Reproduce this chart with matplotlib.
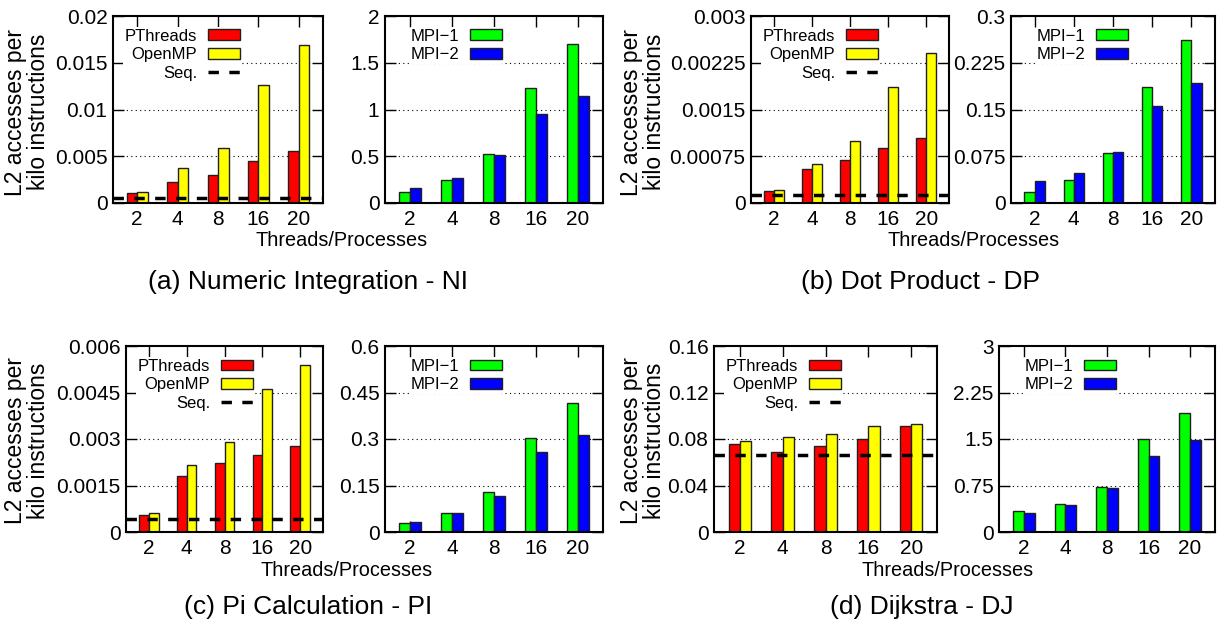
import matplotlib
matplotlib.use('Agg')
import matplotlib.pyplot as plt
import numpy as np

plt.rcParams['font.family'] = ['Liberation Sans', 'DejaVu Sans']

threads = ['2', '4', '8', '16', '20']

# (a) Numeric Integration
ni_pthreads = [0.00107, 0.00225, 0.00303, 0.00446, 0.00553]
ni_openmp = [0.00114, 0.00371, 0.00585, 0.01258, 0.01686]
ni_seq = 0.00057
ni_mpi1 = [0.114, 0.242, 0.524, 1.226, 1.70]
ni_mpi2 = [0.157, 0.264, 0.513, 0.952, 1.144]

# (b) Dot Product
dp_pthreads = [0.000193, 0.000545, 0.000684, 0.000877, 0.00104]
dp_openmp = [0.000203, 0.000626, 0.000989, 0.001856, 0.00241]
dp_seq = 0.000134
dp_mpi1 = [0.0171, 0.0364, 0.0797, 0.1856, 0.261]
dp_mpi2 = [0.0348, 0.0476, 0.0813, 0.155, 0.192]

# (c) Pi Calculation
pi_pthreads = [0.000547, 0.00182, 0.00222, 0.00249, 0.00276]
pi_openmp = [0.000623, 0.00216, 0.0029, 0.00462, 0.00538]
pi_seq = 0.00043
pi_mpi1 = [0.0279, 0.0612, 0.130, 0.303, 0.416]
pi_mpi2 = [0.0311, 0.060, 0.117, 0.258, 0.312]

# (d) Dijkstra
dj_pthreads = [0.0761, 0.0684, 0.0736, 0.0801, 0.0913]
dj_openmp = [0.0779, 0.0813, 0.0839, 0.0913, 0.0933]
dj_seq = 0.0664
dj_mpi1 = [0.338, 0.456, 0.730, 1.497, 1.916]
dj_mpi2 = [0.311, 0.44, 0.703, 1.229, 1.487]

captions = ['(a) Numeric Integration - NI', '(b) Dot Product - DP',
            '(c) Pi Calculation - PI', '(d) Dijkstra - DJ']

W, H = 1219, 631
fig = plt.figure(figsize=(W / 100, H / 100), dpi=100)


def px_axes(l, t, r, b):
    return fig.add_axes([l / W, 1 - b / H, (r - l) / W, (b - t) / H])


def style(ax, ymax):
    ax.set_xlim(-0.6, 4.6)
    ax.set_ylim(0, ymax)
    ticks = np.linspace(0, ymax, 5)
    ax.set_yticks(ticks)
    ax.set_yticklabels([f'{t:g}' for t in ticks])
    ax.set_xticks(range(len(threads)))
    ax.set_xticklabels(threads)
    ax.tick_params(direction='in', length=8, width=1, top=True, right=True,
                   labelsize=15)
    ax.tick_params(axis='y', pad=4)
    ax.tick_params(axis='x', pad=5)
    for s in ax.spines.values():
        s.set_linewidth(1.5)
    for t in ticks[1:-1]:
        ax.axhline(t, color='black', lw=0.8, ls=(0, (1, 3)), zorder=0)
    ax.set_axisbelow(True)


def legend(ax, handles, offset_px, width_px, top_px, height_px):
    ax.legend(handles=handles, loc='upper right', markerfirst=False,
              frameon=True, facecolor='white', edgecolor='none',
              framealpha=1, fontsize=12, handlelength=1.95,
              handleheight=0.6, handletextpad=0.65, labelspacing=0.22,
              borderpad=0.1, borderaxespad=0,
              bbox_to_anchor=(offset_px / width_px, 1 - top_px / height_px))


def left_panel(box, pth, omp, seq, ymax):
    l, t, r, b = box
    ax = px_axes(l, t, r, b)
    x = np.arange(len(threads))
    w = 0.26
    b1 = ax.bar(x - w / 2, pth, w, color='#ff0000', edgecolor='#202020',
                lw=1, label='PThreads')
    b2 = ax.bar(x + w / 2, omp, w, color='#ffff00', edgecolor='#202020',
                lw=1, label='OpenMP')
    ln = ax.axhline(seq, color='black', lw=2.5, ls=(0, (3, 3)), label='Seq.',
                    zorder=5)
    style(ax, ymax)
    legend(ax, [b1, b2, ln], 129, r - l, 11, b - t)
    return ax


def right_panel(box, m1, m2, ymax):
    l, t, r, b = box
    ax = px_axes(l, t, r, b)
    x = np.arange(len(threads))
    w = 0.26
    b1 = ax.bar(x - w / 2, m1, w, color='#00ff00', edgecolor='#202020',
                lw=1, label='MPI\u22121')
    b2 = ax.bar(x + w / 2, m2, w, color='#0000ff', edgecolor='#202020',
                lw=1, label='MPI\u22122')
    style(ax, ymax)
    legend(ax, [b1, b2], 119, r - l, 11, b - t)
    return ax


left_panel((113, 16, 323, 203), ni_pthreads, ni_openmp, ni_seq, 0.02)
right_panel((385, 16, 603, 203), ni_mpi1, ni_mpi2, 2)
left_panel((751, 16, 949, 203), dp_pthreads, dp_openmp, dp_seq, 0.003)
right_panel((1011, 16, 1215, 203), dp_mpi1, dp_mpi2, 0.3)
left_panel((126, 346, 323, 532), pi_pthreads, pi_openmp, pi_seq, 0.006)
right_panel((385, 346, 603, 532), pi_mpi1, pi_mpi2, 0.6)
left_panel((714, 346, 937, 532), dj_pthreads, dj_openmp, dj_seq, 0.16)
right_panel((999, 346, 1215, 532), dj_mpi1, dj_mpi2, 3)

ylabel = 'L2 accesses per\nkilo instructions'
for (x, y) in [(27, 112), (643, 112), (27, 441), (643, 441)]:
    fig.text(x / W, 1 - y / H, ylabel, rotation=90, ha='center', va='center',
             multialignment='center', fontsize=16.5, linespacing=0.95)

for (x, y) in [(342, 241), (974, 241), (347, 571), (948, 571)]:
    fig.text(x / W, 1 - y / H, 'Threads/Processes', ha='center', va='center',
             fontsize=14.3)

for cap, (x, y) in zip(captions, [(308, 282), (920, 282), (308, 607), (922, 607)]):
    fig.text(x / W, 1 - y / H, cap, ha='center', va='center', fontsize=19)

plt.savefig('out.png', dpi=100)
plt.close()
